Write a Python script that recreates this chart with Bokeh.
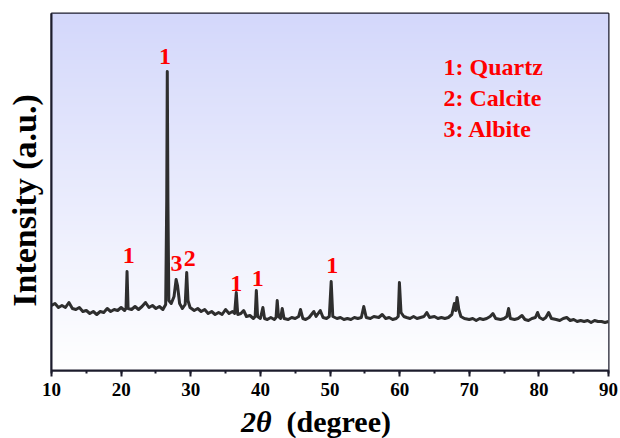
import numpy as np
from bokeh.plotting import figure
from bokeh.models import Label, SingleIntervalTicker, FixedTicker, Div
from bokeh.layouts import column
from bokeh.embed import file_html
from bokeh.resources import INLINE

two_theta = [
    10.0, 10.5, 11.0, 11.5, 12.0, 12.5, 13.0, 13.5, 14.0, 14.5, 15.0, 15.5, 16.0, 16.5, 17.0, 17.5,
    18.0, 18.5, 19.0, 19.5, 20.0, 20.5, 20.7, 20.85, 21.0, 21.5, 22.0, 22.5, 23.0, 23.5, 24.0, 24.5,
    25.0, 25.5, 26.0, 26.4, 26.55, 26.63, 26.72, 26.85, 27.2, 27.6, 27.9, 28.1, 28.4, 28.8, 29.2,
    29.42, 29.6, 29.9, 30.5, 31.0, 31.5, 32.0, 32.5, 33.0, 33.5, 34.0, 34.5, 35.0, 35.5, 36.0, 36.3,
    36.54, 36.75, 37.2, 37.6, 38.0, 38.5, 39.0, 39.25, 39.42, 39.6, 40.0, 40.36, 40.6, 41.0, 41.5,
    42.0, 42.25, 42.42, 42.6, 42.9, 43.14, 43.4, 44.0, 44.5, 45.0, 45.5, 45.77, 46.1, 46.5, 47.0,
    47.68, 48.0, 48.6, 49.0, 49.5, 49.9, 50.17, 50.4, 51.0, 51.5, 52.0, 52.5, 53.0, 53.5, 54.0, 54.5,
    54.85, 55.2, 55.8, 56.3, 57.0, 57.5, 58.0, 58.5, 59.0, 59.5, 59.8, 59.97, 60.2, 60.6, 61.0, 61.5,
    62.0, 62.5, 63.0, 63.5, 63.9, 64.3, 65.0, 65.5, 66.0, 66.5, 67.0, 67.5, 67.86, 68.05, 68.25, 68.5,
    68.8, 69.3, 70.0, 70.5, 71.0, 71.5, 72.0, 72.5, 73.0, 73.4, 73.8, 74.5, 75.0, 75.4, 75.65, 75.9,
    76.5, 77.0, 77.57, 78.0, 78.5, 79.0, 79.5, 79.81, 80.1, 80.6, 81.0, 81.4, 81.8, 82.5, 83.0, 83.5,
    84.0, 84.5, 85.0, 85.5, 86.0, 86.5, 87.0, 87.5, 88.0, 88.5, 89.0, 89.5, 90.0,
]
intensity = [
    65, 67, 63, 65, 63, 68, 62, 61, 63, 59, 60, 57, 59, 56, 59, 58,
    62, 59, 61, 60, 63, 60, 62, 99, 62, 61, 64, 61, 64, 68, 63, 65,
    62, 64, 61, 66, 170, 299, 170, 70, 67, 74, 91, 85, 67, 62, 66,
    98, 70, 63, 60, 62, 59, 61, 57, 59, 56, 58, 56, 61, 57, 59, 57,
    78, 56, 57, 60, 54, 55, 52, 54, 80, 54, 52, 63, 52, 51, 53,
    51, 53, 70, 54, 52, 62, 52, 51, 53, 52, 54, 61, 52, 51, 53,
    59, 54, 60, 53, 52, 54, 89, 54, 52, 53, 51, 52, 51, 53, 52, 53,
    64, 53, 52, 54, 53, 56, 52, 53, 51, 52, 54, 88, 58, 54, 53, 52,
    54, 52, 53, 54, 58, 53, 54, 52, 53, 52, 53, 56, 67, 60, 73, 61,
    54, 52, 51, 52, 50, 52, 51, 52, 54, 57, 52, 51, 52, 54, 62, 52,
    51, 52, 55, 51, 50, 52, 53, 58, 53, 51, 53, 58, 52, 51, 50, 52,
    53, 50, 51, 49, 50, 49, 50, 48, 50, 49, 49, 48, 49,
]

peak_labels = ["1", "1", "3", "2", "1", "1", "1"]
peak_label_x = [26.3, 21.1, 27.95, 29.86, 36.53, 39.63, 50.32]
peak_label_y = [314, 115, 107, 112, 87, 92, 105]

legend_texts = ["1: Quartz", "2: Calcite", "3: Albite"]
legend_x = 66.3
legend_y = [304, 273, 242]

x_ticks_interval = 10
x_min, x_max = 10, 90
y_min, y_max = 0, 357

p = figure(frame_width=557, frame_height=357, x_range=(x_min, x_max), y_range=(y_min, y_max),
           output_backend="svg", toolbar_location=None,
           min_border_left=51, min_border_right=12, min_border_top=13, min_border_bottom=36)
p.grid.visible = False
p.background_fill_color = "white"
p.border_fill_color = "white"
p.outline_line_color = "#1c1c2c"
p.outline_line_width = 2
p.outline_line_alpha = 1

# gradient background
n = 200
top = np.array([212, 216, 251], dtype=float)
bot = np.array([255, 255, 255], dtype=float)
t = np.linspace(0, 1, n)[:, None]
cols = (bot + (top - bot) * t).astype(np.uint8)
img = np.zeros((n, 1), dtype=np.uint32)
view = img.view(dtype=np.uint8).reshape((n, 1, 4))
view[:, 0, 0] = cols[:, 0]
view[:, 0, 1] = cols[:, 1]
view[:, 0, 2] = cols[:, 2]
view[:, 0, 3] = 255
p.image_rgba(image=[img], x=x_min, y=y_min, dw=x_max - x_min, dh=y_max - y_min)

p.line(two_theta, intensity, line_color="#2e2e2e", line_width=3, line_join="round")

FONT = "Liberation Serif"
for txt, lx, ly in zip(peak_labels, peak_label_x, peak_label_y):
    p.add_layout(Label(x=lx, y=ly, text=txt, text_color="#ff0000", text_font=FONT,
                       text_font_style="bold", text_font_size="24px",
                       text_align="center", text_baseline="middle"))
for txt, ly in zip(legend_texts, legend_y):
    p.add_layout(Label(x=legend_x, y=ly, text=txt, text_color="#ff0000", text_font=FONT,
                       text_font_style="bold", text_font_size="24px",
                       text_align="left", text_baseline="middle"))

# x axis
xa = p.xaxis[0]
xa.ticker = SingleIntervalTicker(interval=x_ticks_interval, num_minor_ticks=2)
xa.axis_line_color = "#1c1c2c"
xa.axis_line_width = 2
xa.major_tick_line_color = "#1c1c2c"
xa.major_tick_line_width = 2
xa.major_tick_in = 0
xa.major_tick_out = 6
xa.minor_tick_line_color = "#1c1c2c"
xa.minor_tick_line_width = 2
xa.minor_tick_in = 0
xa.minor_tick_out = 3
xa.major_label_text_font = FONT
xa.major_label_text_font_style = "bold"
xa.major_label_text_font_size = "19px"
xa.major_label_text_color = "black"
xa.major_label_standoff = 6

# y axis
ya = p.yaxis[0]
ya.ticker = FixedTicker(ticks=[])
ya.axis_line_color = "#1c1c2c"
ya.axis_line_width = 2
ya.major_tick_line_color = None
ya.minor_tick_line_color = None
ya.major_label_text_font_size = "0px"
ya.axis_label = "Intensity (a.u.)\u00a0\u00a0"
ya.axis_label_text_font = FONT
ya.axis_label_text_font_style = "bold"
ya.axis_label_text_font_size = "34px"
ya.axis_label_text_color = "black"
ya.axis_label_standoff = 9

# x label (mixed italic) as a text block under the plot
xlabel = Div(
    text='<span style="font-style:italic">2\u03b8</span>&nbsp;&nbsp;(degree)',
    width=620, height=32, margin=(0, 0, 0, 0),
    styles={"font-family": FONT, "font-weight": "bold", "font-size": "30px",
            "line-height": "32px", "color": "black", "padding-left": "241px",
            "white-space": "nowrap"},
)

layout = column(p, xlabel, spacing=0)
open("out.html", "w").write(file_html(layout, INLINE))
